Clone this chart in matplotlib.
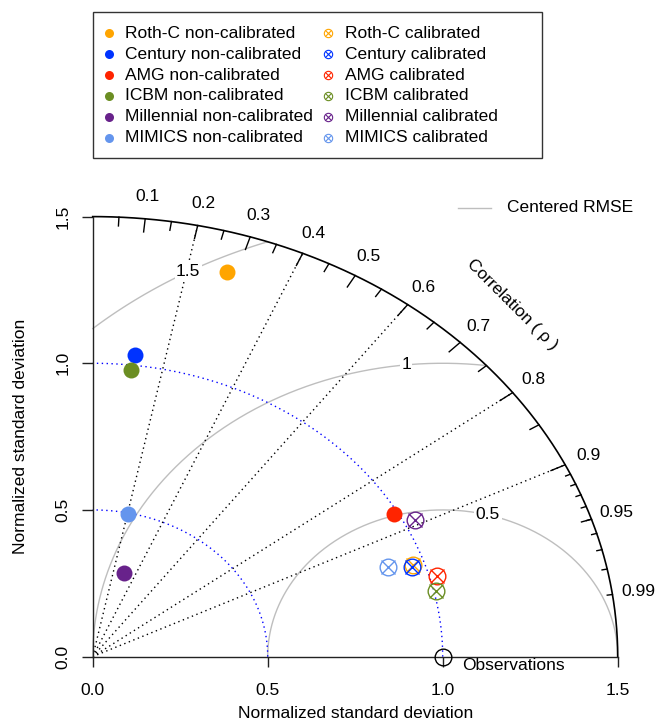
import numpy as np
import matplotlib.pyplot as plt
from matplotlib.patches import Rectangle

plt.rcParams['font.family'] = ['Liberation Sans', 'DejaVu Sans']

# data: normalized SD and correlation with observations
models = ["Roth-C", "Century", "AMG", "ICBM", "Millennial", "MIMICS"]
colors = ["#FFA500", "#0033FF", "#FF2400", "#6B8E23", "#68228B", "#6495ED"]
sd_noncal = [1.366, 1.035, 0.989, 0.983, 0.298, 0.497]
cor_noncal = [0.281, 0.117, 0.871, 0.111, 0.299, 0.205]
sd_cal = [0.966, 0.962, 1.021, 1.005, 1.032, 0.897]
cor_cal = [0.946, 0.948, 0.963, 0.975, 0.892, 0.940]

maxsd = 1.5
sd_ref = 1.0
rmse_levels = [0.5, 1.0, 1.5]
rmse_label_ang = [75, 96, 119]   # where the contour labels sit (deg, around obs)
corr_lines = [0.2, 0.4, 0.6, 0.8, 0.9]
sd_arcs = [0.5, 1.0]
corr_labels = [0.1, 0.2, 0.3, 0.4, 0.5, 0.6, 0.7, 0.8, 0.9, 0.95, 0.99]
axis_ticks = [0.0, 0.5, 1.0, 1.5]

W, H = 657, 724
fig = plt.figure(figsize=(W / 100, H / 100), dpi=100)
ax = fig.add_axes([92.7 / W, (H - 656.6) / H, 525 / W, 440 / H])
ax.set_xlim(0, maxsd)
ax.set_ylim(0, maxsd)

for s in ["top", "right"]:
    ax.spines[s].set_visible(False)
ax.spines["left"].set_bounds(0, maxsd)
ax.spines["bottom"].set_bounds(0, maxsd)
for s in ["left", "bottom"]:
    ax.spines[s].set_linewidth(1.0)
    ax.spines[s].set_color("#222222")
ax.set_xticks(axis_ticks)
ax.set_yticks(axis_ticks)
ax.set_xticklabels([f"{t:.1f}" for t in axis_ticks])
ax.set_yticklabels([f"{t:.1f}" for t in axis_ticks], rotation=90, va="center")
ax.tick_params(axis="x", length=7, width=1, pad=12, labelsize=12.5, color="#222222")
ax.tick_params(axis="y", length=8, width=1, pad=8, labelsize=12.5, color="#222222")
ax.set_xlabel("Normalized standard deviation", fontsize=12.5, labelpad=6)
ax.set_ylabel("Normalized standard deviation", fontsize=12.5, labelpad=20)

# outer correlation arc
th = np.linspace(0, np.pi / 2, 300)
ax.plot(maxsd * np.cos(th), maxsd * np.sin(th), color="black", lw=1.2, clip_on=False)

# grey centred RMSE contours
th = np.linspace(0, np.pi, 800)
for g, ang in zip(rmse_levels, rmse_label_ang):
    xc = sd_ref + g * np.cos(th)
    yc = g * np.sin(th)
    keep = (xc >= 0) & (xc ** 2 + yc ** 2 <= maxsd ** 2 + 1e-9)
    ax.plot(xc[keep], yc[keep], color="#BEBEBE", lw=1, clip_on=False, zorder=1)
    a = np.radians(ang)
    lab = f"{g:g}"
    ax.text(sd_ref + g * np.cos(a), g * np.sin(a), lab, fontsize=12.5,
            ha="center", va="center", zorder=2,
            bbox=dict(facecolor="white", edgecolor="none", pad=1))

# blue dotted SD arcs
th = np.linspace(0, np.pi / 2, 300)
for r in sd_arcs:
    ax.plot(r * np.cos(th), r * np.sin(th), color="#0000FF", lw=1,
            ls=(0, (1, 2.5)), clip_on=False, zorder=1)

# dotted correlation rays
for c in corr_lines:
    a = np.arccos(c)
    ax.plot([0, maxsd * np.cos(a)], [0, maxsd * np.sin(a)], color="black",
            lw=1, ls=(0, (1, 2.5)), zorder=1)

# ticks on the outer arc
def arc_ticks(vals, frac):
    for c in vals:
        a = np.arccos(c)
        ax.plot([maxsd * np.cos(a), frac * maxsd * np.cos(a)],
                [maxsd * np.sin(a), frac * maxsd * np.sin(a)],
                color="black", lw=1, clip_on=False)

arc_ticks(np.arange(1, 10) / 10, 0.97)
arc_ticks(np.arange(0.05, 1.0, 0.1), 0.98)
arc_ticks(np.arange(91, 100) / 100, 0.99)

for c in corr_labels:
    a = np.arccos(c)
    ax.text(1.05 * maxsd * np.cos(a), 1.05 * maxsd * np.sin(a), f"{c:g}",
            fontsize=12.5, ha="center", va="center", clip_on=False)

ax.text(0.8 * maxsd, 0.8 * maxsd, "Correlation ( ρ )", fontsize=12.5,
        rotation=-45, ha="center", va="center", rotation_mode="anchor")

# observations
ax.plot([sd_ref], [0], marker="o", ms=12, mfc="none", mec="black", mew=1,
        clip_on=False, zorder=5)
ax.text(1.055, -0.03, "Observations", fontsize=12.5, ha="left", va="center")

# model points
for sd, c, col in zip(sd_noncal, cor_noncal, colors):
    x, y = sd * c, sd * np.sqrt(1 - c ** 2)
    ax.plot(x, y, marker="o", ms=11.5, mfc=col, mec=col, mew=0, clip_on=False, zorder=6)
for sd, c, col in zip(sd_cal, cor_cal, colors):
    x, y = sd * c, sd * np.sqrt(1 - c ** 2)
    ax.plot(x, y, marker="o", ms=12, mfc="none", mec=col, mew=1, clip_on=False, zorder=6)
    ax.plot(x, y, marker="x", ms=10, mec=col, mew=1, clip_on=False, zorder=6)

# legends drawn in pixel coordinates
lg = fig.add_axes([0, 0, 1, 1], facecolor="none")
lg.set_xlim(0, W)
lg.set_ylim(H, 0)
lg.axis("off")
lg.add_patch(Rectangle((92.7, 11.7), 449, 146.3, fill=False, edgecolor="#333333", lw=1))
for i, (m, col) in enumerate(zip(models, colors)):
    yy = 33.3 + i * 20.9
    lg.plot(109, yy, marker="o", ms=6.5, mfc=col, mec=col, mew=0)
    lg.text(125, yy, f"{m} non-calibrated", fontsize=12.5, va="center", ha="left")
    lg.plot(328, yy, marker="o", ms=6, mfc="none", mec=col, mew=0.8)
    lg.plot(328, yy, marker="x", ms=5, mec=col, mew=0.8)
    lg.text(345, yy, f"{m} calibrated", fontsize=12.5, va="center", ha="left")

lg.plot([458, 491], [208, 208], color="#BEBEBE", lw=1)
lg.text(507, 208, "Centered RMSE", fontsize=12.5, va="center", ha="left")

fig.savefig("out.png", dpi=100)
